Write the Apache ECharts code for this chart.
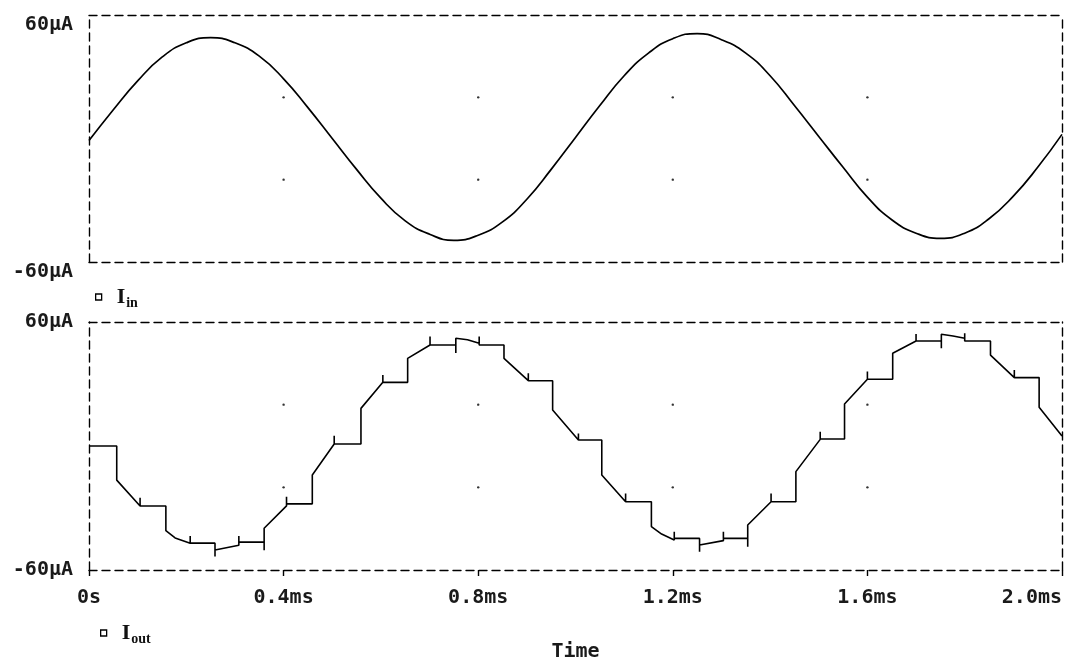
<!DOCTYPE html>
<html>
<head>
<meta charset="utf-8">
<script src="https://cdn.jsdelivr.net/npm/echarts@6/dist/echarts.min.js"></script>
<style>
html,body{margin:0;padding:0;background:#fff;}
#chart{width:1076px;height:665px;}
</style>
</head>
<body>
<div id="chart"></div>
<script>
// ---- data ----
const timeTicks = [0, 0.4, 0.8, 1.2, 1.6, 2.0];
const timeTickLabels = ['0s', '0.4ms', '0.8ms', '1.2ms', '1.6ms', '2.0ms'];
const currentTicks = [-60, 60];
const currentTickLabels = ['-60µA', '60µA'];
const gridDotTimes = [0.4, 0.8, 1.2, 1.6];
const gridDotLevels = [-20, 20];

// I_in : time (ms) and current (µA)
const iInTime = [0,0.05,0.1,0.15,0.2,0.25,0.3,0.35,0.4,0.45,0.5,0.55,0.6,0.65,0.7,0.75,0.8,0.85,0.9,0.95,1.0,
  1.05,1.1,1.15,1.2,1.25,1.3,1.35,1.4,1.45,1.5,1.55,1.6,1.65,1.7,1.75,1.8,1.85,1.9,1.95,2.0];
const iInValue = [-1,14,28,39.5,46.5,49,46.5,40,29,15,0,-15,-29,-40,-46.5,-49.5,-47,-40.5,-29.5,-15,0.5,
  16,30.5,41.5,48.5,51,48,41.5,30.5,16,1,-14,-28.5,-39.5,-46,-48.5,-46,-39,-28,-14,2];

// I_out : [time (ms), current (µA)]
const iOutPoints = [
  [0,0],[0.057,0],[0.057,-16.5],[0.105,-29],[0.105,-25],[0.105,-29],
  [0.158,-29],[0.158,-41],[0.177,-44.5],[0.208,-47],[0.208,-43.5],[0.208,-47],
  [0.259,-47],[0.259,-53.5],[0.259,-50.3],[0.308,-48],[0.308,-43.5],[0.308,-46.5],
  [0.360,-46.5],[0.360,-50.5],[0.360,-39.8],[0.406,-29],[0.406,-24.5],[0.406,-28],
  [0.459,-28],[0.459,-14],[0.504,1],[0.504,5],[0.504,1],
  [0.559,1],[0.559,18.2],[0.604,30.8],[0.604,34.4],[0.604,30.8],
  [0.655,30.8],[0.655,42.4],[0.701,48.9],[0.701,53],[0.701,48.9],
  [0.754,48.9],[0.754,45],[0.754,52.1],[0.778,51.4],[0.802,49.7],[0.802,53],[0.802,48.9],
  [0.853,48.9],[0.853,42.4],[0.903,31.6],[0.903,35.2],[0.903,31.6],
  [0.953,31.6],[0.953,17.4],[1.006,2.9],[1.006,6.1],[1.006,2.9],
  [1.054,2.9],[1.054,-14],[1.103,-27],[1.103,-23],[1.103,-27],
  [1.156,-27],[1.156,-39],[1.177,-42.6],[1.203,-45.5],[1.203,-41.5],[1.203,-44.7],
  [1.255,-44.7],[1.255,-51.2],[1.255,-47.9],[1.304,-45.8],[1.304,-41.5],[1.304,-44.7],
  [1.354,-44.7],[1.354,-48.7],[1.354,-38.2],[1.402,-27],[1.402,-23],[1.402,-27],
  [1.453,-27],[1.453,-12.4],[1.503,3.2],[1.503,6.9],[1.503,3.4],
  [1.553,3.4],[1.553,20.3],[1.600,32.3],[1.600,36],[1.600,32.3],
  [1.652,32.3],[1.652,44.9],[1.700,50.8],[1.700,54.2],[1.700,50.8],
  [1.752,50.8],[1.752,47.3],[1.752,54.1],[1.776,53.2],[1.800,52.1],[1.800,54.5],[1.800,50.8],
  [1.853,50.8],[1.853,44],[1.902,33.1],[1.902,36.8],[1.902,33.1],
  [1.953,33.1],[1.953,18.7],[2.0,4.8]
];

// ---- chart ----
const FONT = 'DejaVu Sans Mono';
const FS = 20;
const dash = {color:'#000', width:1.4, type:[8,5]};

const labelFor = (ticks, labels) => v => {
  const i = ticks.findIndex(t => Math.abs(t - v) < 1e-9);
  return i >= 0 ? labels[i] : '';
};

function xAxes(gi, withLabels) {
  return [
    {
      gridIndex: gi, type:'value', min:0, max:2, interval:0.4, position:'bottom',
      axisLine:{show:true, onZero:false, lineStyle:dash},
      axisTick:{show:withLabels, inside:false, length:6, lineStyle:{color:'#000', width:1.4}},
      axisLabel:{show:withLabels, margin:18, fontFamily:FONT, fontSize:FS, fontWeight:'bold', color:'#1a1a1a',
        formatter: labelFor(timeTicks, timeTickLabels), alignMaxLabel:'right'},
      splitLine:{show:false},
      name: withLabels ? 'Time' : '', nameLocation:'middle', nameGap:72,
      nameTextStyle:{fontFamily:FONT, fontSize:FS, fontWeight:'bold', color:'#1a1a1a'}
    },
    {
      gridIndex: gi, type:'value', min:0, max:2, position:'top',
      axisLine:{show:true, onZero:false, lineStyle:dash},
      axisTick:{show:false}, axisLabel:{show:false}, splitLine:{show:false}
    }
  ];
}
function yAxes(gi, vAlign) {
  return [
    {
      gridIndex: gi, type:'value', min:-60, max:60, interval:60, position:'left',
      axisLine:{show:true, onZero:false, lineStyle:dash},
      axisTick:{show:false},
      axisLabel:{show:true, margin:16, fontFamily:FONT, fontSize:FS, fontWeight:'bold', color:'#1a1a1a',
        verticalAlign:vAlign, customValues: currentTicks,
        formatter: labelFor(currentTicks, currentTickLabels)},
      splitLine:{show:false}
    },
    {
      gridIndex: gi, type:'value', min:-60, max:60, position:'right',
      axisLine:{show:true, onZero:false, lineStyle:dash},
      axisTick:{show:false}, axisLabel:{show:false}, splitLine:{show:false}
    }
  ];
}

const dots = [];
gridDotTimes.forEach(t => gridDotLevels.forEach(l => dots.push([t, l])));

const legendRich = {
  i:{fontFamily:'Liberation Serif', fontSize:22, fontWeight:'bold', color:'#111', padding:[0,0,0,10]},
  s:{fontFamily:'Liberation Serif', fontSize:14, fontWeight:'bold', color:'#111', verticalAlign:'bottom', padding:[12,0,0,1]}
};
function legend(name, sub, left, top) {
  return {
    data:[name], left:left, top:top, icon:'rect', itemWidth:6, itemHeight:6,
    itemStyle:{color:'#fff', borderColor:'#000', borderWidth:1.3},
    selectedMode:false,
    textStyle:{rich:legendRich},
    formatter: () => '{i|I}{s|' + sub + '}'
  };
}

const chart = echarts.init(document.getElementById('chart'), null, {renderer:'canvas'});
chart.setOption({
  animation:false,
  backgroundColor:'#fff',
  grid:[
    {left:89, right:14, top:15, height:247},
    {left:89, right:14, top:322, height:248}
  ],
  xAxis:[...xAxes(0,false), ...xAxes(1,true)],
  yAxis:[...yAxes(0,'top'), ...yAxes(1,'middle')],
  legend:[legend('Iin','in',90,281), legend('Iout','out',95,617)],
  series:[
    {name:'Iin', type:'line', xAxisIndex:0, yAxisIndex:0, smooth:0.5, showSymbol:false,
      data: iInTime.map((t,i) => [t, iInValue[i]]),
      lineStyle:{color:'#000', width:1.7}, itemStyle:{color:'#000'}},
    {name:'Iout', type:'line', xAxisIndex:2, yAxisIndex:2, showSymbol:false,
      data: iOutPoints,
      lineStyle:{color:'#000', width:1.6}, itemStyle:{color:'#000'}},
    {type:'scatter', xAxisIndex:0, yAxisIndex:0, data:dots, symbolSize:2.4,
      itemStyle:{color:'#000'}, silent:true},
    {type:'scatter', xAxisIndex:2, yAxisIndex:2, data:dots, symbolSize:2.4,
      itemStyle:{color:'#000'}, silent:true}
  ]
});
</script>
</body>
</html>
